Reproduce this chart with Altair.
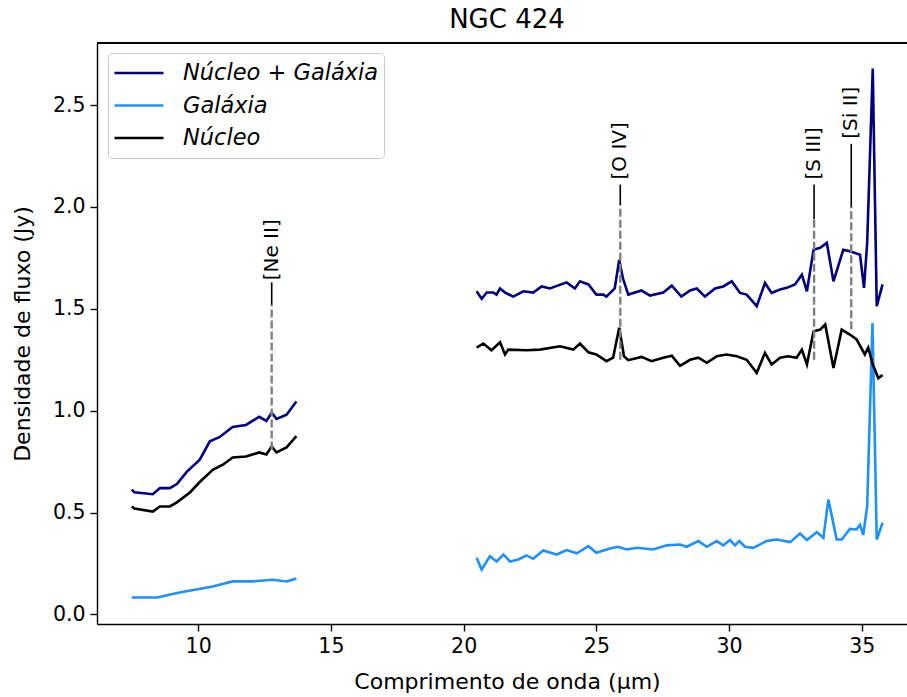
import altair as alt
import pandas as pd

# ---------------- data ----------------
series_names = ["Núcleo + Galáxia", "Galáxia", "Núcleo"]
series_colors = ["#000080", "#1E90FF", "#000000"]

# left segment (short wavelengths)
nucgal_left_x = [7.5, 7.6, 8.29, 8.56, 8.93, 9.2, 9.57, 10.06, 10.44, 10.8, 11.3, 11.8, 12.3, 12.57, 12.77, 12.95, 13.33, 13.7]
nucgal_left_y = [0.613, 0.60, 0.59, 0.62, 0.62, 0.64, 0.70, 0.76, 0.85, 0.87, 0.92, 0.93, 0.97, 0.95, 0.99, 0.96, 0.98, 1.045]

nuc_left_x = [7.5, 7.6, 8.29, 8.56, 8.93, 9.2, 9.7, 10.06, 10.55, 10.93, 11.3, 11.8, 12.3, 12.57, 12.77, 12.95, 13.33, 13.7]
nuc_left_y = [0.53, 0.52, 0.505, 0.53, 0.53, 0.55, 0.60, 0.65, 0.71, 0.735, 0.77, 0.775, 0.795, 0.785, 0.825, 0.795, 0.82, 0.875]

gal_left_x = [7.5, 8.45, 9.3, 10.55, 11.3, 12.05, 12.8, 13.33, 13.7]
gal_left_y = [0.083, 0.083, 0.108, 0.137, 0.162, 0.162, 0.17, 0.162, 0.176]

# right segment (long wavelengths)
nucgal_right_x = [20.49, 20.68, 20.87, 21.12, 21.24, 21.37, 21.56, 21.87, 22.25, 22.62, 22.94, 23.25, 23.88, 24.19,
                  24.38, 24.7, 25.0, 25.26, 25.38, 25.69, 25.86, 26.0, 26.2, 26.7, 27.02, 27.52, 27.84, 28.2, 28.53,
                  28.78, 29.09, 29.47, 29.78, 30.1, 30.41, 30.66, 31.04, 31.35, 31.6, 31.92, 32.17, 32.48, 32.74,
                  32.93, 33.18, 33.43, 33.68, 33.93, 34.3, 34.55, 34.93, 35.08, 35.2, 35.41, 35.56, 35.78]
nucgal_right_y = [1.586, 1.549, 1.58, 1.58, 1.57, 1.60, 1.58, 1.56, 1.586, 1.58, 1.61, 1.60, 1.63, 1.60,
                  1.635, 1.62, 1.57, 1.57, 1.56, 1.60, 1.74, 1.65, 1.57, 1.59, 1.565, 1.58, 1.614, 1.56, 1.59,
                  1.60, 1.56, 1.60, 1.61, 1.635, 1.578, 1.57, 1.513, 1.627, 1.578, 1.595, 1.603, 1.62, 1.668,
                  1.586, 1.79, 1.80, 1.824, 1.635, 1.79, 1.783, 1.766, 1.603, 1.824, 2.68, 1.513, 1.62]

nuc_right_x = [20.49, 20.74, 21.05, 21.37, 21.56, 21.68, 22.37, 22.87, 23.63, 24.13, 24.38, 24.7, 25.0, 25.38,
               25.63, 25.86, 26.04, 26.2, 26.7, 27.08, 27.52, 27.84, 28.15, 28.53, 28.84, 29.16, 29.53, 29.9,
               30.29, 30.66, 31.04, 31.35, 31.6, 31.92, 32.23, 32.54, 32.74, 32.93, 33.18, 33.43, 33.62, 33.93,
               34.24, 34.55, 34.8, 35.11, 35.24, 35.41, 35.62, 35.78]
nuc_right_y = [1.31, 1.33, 1.297, 1.336, 1.276, 1.30, 1.297, 1.30, 1.316, 1.30, 1.33, 1.287, 1.276, 1.243,
               1.26, 1.407, 1.267, 1.248, 1.264, 1.243, 1.26, 1.27, 1.22, 1.25, 1.26, 1.235, 1.267, 1.276,
               1.267, 1.25, 1.186, 1.284, 1.227, 1.26, 1.267, 1.26, 1.30, 1.227, 1.39, 1.398, 1.423, 1.21,
               1.398, 1.374, 1.35, 1.276, 1.31, 1.227, 1.16, 1.175]

gal_right_x = [20.49, 20.68, 20.99, 21.24, 21.5, 21.75, 22.06, 22.37, 22.62, 23.0, 23.5, 23.88, 24.26, 24.7,
               25.0, 25.51, 25.82, 26.14, 26.52, 27.14, 27.65, 28.15, 28.4, 28.84, 29.16, 29.53, 29.78, 30.03,
               30.22, 30.38, 30.6, 30.91, 31.41, 31.79, 32.3, 32.67, 32.93, 33.3, 33.55, 33.74, 34.05, 34.24,
               34.55, 34.8, 34.93, 35.05, 35.2, 35.4, 35.56, 35.78]
gal_right_y = [0.278, 0.22, 0.286, 0.26, 0.294, 0.26, 0.27, 0.29, 0.273, 0.314, 0.294, 0.316, 0.30, 0.335,
               0.303, 0.324, 0.332, 0.319, 0.327, 0.319, 0.339, 0.343, 0.332, 0.36, 0.332, 0.36, 0.339, 0.365,
               0.339, 0.36, 0.332, 0.327, 0.36, 0.368, 0.355, 0.397, 0.365, 0.404, 0.376, 0.564, 0.368, 0.368,
               0.42, 0.417, 0.44, 0.39, 0.53, 1.43, 0.368, 0.45]

# emission line annotations
line_labels = ["[Ne II]", "[O IV]", "[S III]", "[Si II]"]
line_x = [12.77, 25.9, 33.2, 34.6]
dash_low = [0.81, 1.25, 1.25, 1.40]
dash_high = [1.52, 2.01, 1.94, 2.00]
solid_high = [1.63, 2.11, 2.11, 2.31]
label_y = [1.64, 2.135, 2.135, 2.335]

x_ticks = [10, 15, 20, 25, 30, 35]
y_ticks = [0.0, 0.5, 1.0, 1.5, 2.0, 2.5]

# ---------------- build tables ----------------
rows = []
def add(name, seg, xs, ys):
    for a, b in zip(xs, ys):
        rows.append({"x": a, "y": b, "serie": name, "seg": f"{name}-{seg}"})

add(series_names[0], "L", nucgal_left_x, nucgal_left_y)
add(series_names[0], "R", nucgal_right_x, nucgal_right_y)
add(series_names[1], "L", gal_left_x, gal_left_y)
add(series_names[1], "R", gal_right_x, gal_right_y)
add(series_names[2], "L", nuc_left_x, nuc_left_y)
add(series_names[2], "R", nuc_right_x, nuc_right_y)
df = pd.DataFrame(rows)

ann = pd.DataFrame({"label": line_labels, "x": line_x, "lo": dash_low, "hi": dash_high,
                    "shi": solid_high, "ty": label_y})

W, H = 810, 581
FONT = "DejaVu Sans"
xscale = alt.Scale(domain=[6.19, 36.7], nice=False, zero=False)
yscale = alt.Scale(domain=[-0.047, 2.805], nice=False, zero=False)

common_axis = dict(grid=False, tickSize=7, labelPadding=5, labelFontSize=20.5, titleFontSize=22,
                   titleFontWeight="normal", domainColor="black", tickColor="black",
                   labelColor="black", titleColor="black", domainWidth=1.4, tickWidth=1.4,
                   labelFont=FONT, titleFont=FONT)

lines = alt.Chart(df).mark_line(strokeWidth=2.6, clip=True).encode(
    x=alt.X("x:Q", scale=xscale, axis=alt.Axis(
        values=x_ticks, title="Comprimento de onda (μm)",
        titleX=410, titleY=57, titleBaseline="middle", **common_axis)),
    y=alt.Y("y:Q", scale=yscale, axis=alt.Axis(
        values=y_ticks, format=".1f", title="Densidade de fluxo (Jy)",
        titleX=-75, titleY=H / 2, titleBaseline="middle", titleAlign="center", titleAngle=270,
        **common_axis)),
    color=alt.Color("serie:N", sort=series_names,
                    scale=alt.Scale(domain=series_names, range=series_colors),
                    legend=alt.Legend(
                        title=None, orient="none", legendX=11, legendY=10,
                        symbolType="stroke", symbolSize=2400, symbolStrokeWidth=2.6,
                        labelFontSize=22.5, labelFontStyle="italic", labelFont=FONT,
                        labelColor="black", labelOffset=18, labelLimit=500,
                        clipHeight=30, rowPadding=2.5,
                        fillColor="white", strokeColor="#cccccc", cornerRadius=4,
                        padding=5)),
    detail="seg:N",
)

dashes = alt.Chart(ann).mark_rule(color="#808080", strokeWidth=2.4, strokeDash=[8, 3]).encode(
    x=alt.X("x:Q", scale=xscale), y=alt.Y("lo:Q", scale=yscale), y2="hi:Q")

solids = alt.Chart(ann).mark_rule(color="black", strokeWidth=1.6).encode(
    x=alt.X("x:Q", scale=xscale), y=alt.Y("hi:Q", scale=yscale), y2="shi:Q")

labels = alt.Chart(ann).mark_text(angle=270, align="left", baseline="middle",
                                  fontSize=20, font=FONT, color="black").encode(
    x=alt.X("x:Q", scale=xscale), y=alt.Y("ty:Q", scale=yscale), text="label:N")

top_border = alt.Chart(ann).mark_rule(color="black", strokeWidth=1.4).encode(
    x=alt.value(0), x2=alt.value(W), y=alt.value(0))

chart = alt.layer(lines, dashes, solids, labels, top_border).properties(
    width=W, height=H,
    title=alt.TitleParams("NGC 424", fontSize=26, font=FONT, fontWeight="normal",
                          color="black", anchor="middle", offset=9, dx=5),
    autosize=alt.AutoSizeParams(type="none"),
    padding={"left": 97, "top": 43, "right": 0, "bottom": 73},
).configure_view(stroke=None).configure(background="white")

chart.save("out.html", embed_options={"renderer": "svg", "actions": False})
